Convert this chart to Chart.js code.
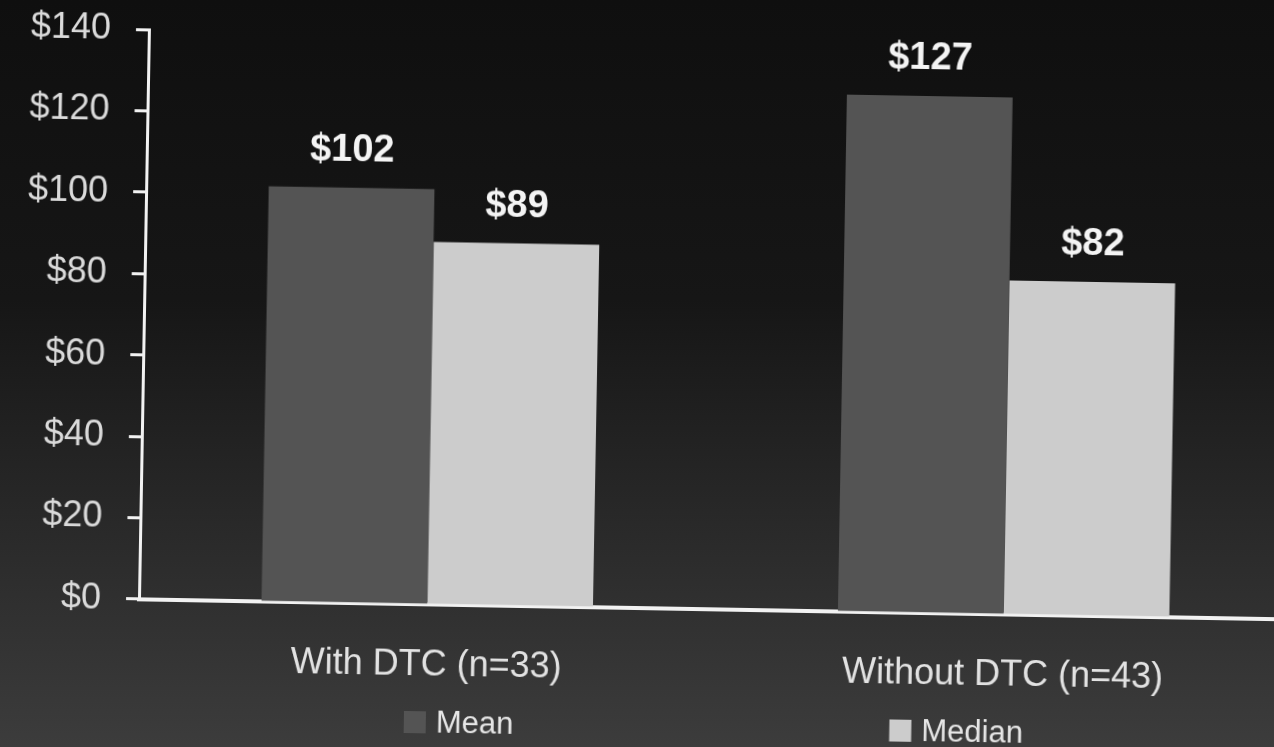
<!DOCTYPE html>
<html>
<head>
<meta charset="utf-8">
<script src="https://cdn.jsdelivr.net/npm/chart.js@4/dist/chart.umd.min.js"></script>
<style>
    html, body{
        margin:0;
        padding:0;
        width:1274px;
        height:747px;
        overflow:hidden;
        background:linear-gradient(to bottom, #0f0f0f 0%, #161616 40%, #2e2e2e 78%, #3c3c3c 100%);
    }
    #wrap{
        position:absolute;
        left:0;
        top:0;
        width:1300px;
        height:747px;
        transform:rotate(1deg);
        transform-origin:637px 373px;
    }
</style>
</head>
<body>
<div id="wrap">
    <canvas id="costChart"></canvas>
</div>
<script>

// ===========================
// DATA
// ===========================

const groups = ["With DTC (n=33)", "Without DTC (n=43)"];

const meanCost = [102, 127];
const medianCost = [89, 82];

const yTicks = [0, 20, 40, 60, 80, 100, 120, 140];

const FONT = "'Liberation Sans', Arial, sans-serif";

// ===========================
// VALUE LABELS ABOVE BARS
// ===========================

const valueLabels = {
    id:'valueLabels',
    afterDatasetsDraw(chart){
        const ctx = chart.ctx;
        ctx.save();
        ctx.font = "bold 38px " + FONT;
        ctx.fillStyle = "#f4f4f4";
        ctx.textAlign = "center";
        ctx.textBaseline = "alphabetic";
        chart.data.datasets.forEach((ds, i)=>{
            chart.getDatasetMeta(i).data.forEach((bar, j)=>{
                ctx.fillText("$" + ds.data[j], bar.x, bar.y - 27);
            });
        });
        ctx.restore();
    }
};

// ===========================
// LEGEND (wide spacing)
// ===========================

const spreadLegend = {
    id:'spreadLegend',
    afterDraw(chart, args, opts){
        const ctx = chart.ctx;
        const area = chart.chartArea;
        ctx.save();
        ctx.font = opts.fontSize + "px " + FONT;
        ctx.textBaseline = "middle";
        ctx.textAlign = "left";

        const items = chart.data.datasets.map(ds=>({
            text:ds.label,
            color:ds.backgroundColor,
            w:opts.box + opts.textGap + ctx.measureText(ds.label).width
        }));

        let total = items.reduce((s, it)=>s + it.w, 0) + opts.gap * (items.length - 1);
        let x = (area.left + area.right) / 2 - total / 2;

        items.forEach(it=>{
            ctx.fillStyle = it.color;
            ctx.fillRect(x, opts.y - opts.box / 2, opts.box, opts.box);
            ctx.fillStyle = "#e6e6e6";
            ctx.fillText(it.text, x + opts.box + opts.textGap, opts.y + 1);
            x += it.w + opts.gap;
        });
        ctx.restore();
    }
};

// ===========================
// CHART
// ===========================

const ctx = document.getElementById("costChart").getContext("2d");

new Chart(ctx,{
    type:'bar',
    data:{
        labels:groups,
        datasets:[
            {
                label:'Mean',
                data:meanCost,
                backgroundColor:'#545454'
            },
            {
                label:'Median',
                data:medianCost,
                backgroundColor:'#cccccc'
            }
        ]
    },
    options:{
        responsive:true,
        maintainAspectRatio:false,
        animation:false,
        categoryPercentage:0.575,
        barPercentage:1.0,
        layout:{
            padding:{top:38, left:0, right:4, bottom:16}
        },
        plugins:{
            legend:{display:false},
            tooltip:{enabled:false},
            spreadLegend:{
                y:726,
                box:22,
                textGap:10,
                gap:376,
                fontSize:31
            }
        },
        scales:{
            x:{
                grid:{display:false, drawTicks:false},
                border:{color:'#f2f2f2', width:4},
                ticks:{
                    color:'#e2e2e2',
                    padding:40,
                    font:{family:FONT, size:36}
                }
            },
            y:{
                min:0,
                max:140,
                afterBuildTicks(scale){
                    scale.ticks = yTicks.map(v=>({value:v}));
                },
                // label padding shouldn't push the plot top down
                afterFit(scale){
                    scale.paddingTop = 22;
                    scale.paddingBottom = 22;
                },
                grid:{
                    drawOnChartArea:false,
                    tickLength:13,
                    tickWidth:3,
                    tickColor:'#f2f2f2'
                },
                border:{color:'#f2f2f2', width:3},
                ticks:{
                    color:'#dadada',
                    padding:25,
                    font:{family:FONT, size:36},
                    callback:v=>"$" + v
                }
            }
        }
    },
    plugins:[valueLabels, spreadLegend]
});

</script>
</body>
</html>
